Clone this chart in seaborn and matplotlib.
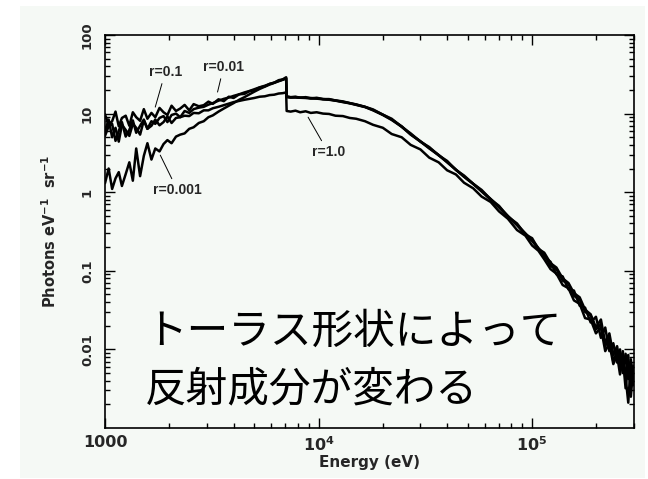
import numpy as np
import pandas as pd
import matplotlib
matplotlib.use("Agg")
import matplotlib.pyplot as plt
import seaborn as sns
from matplotlib.patches import Rectangle
from matplotlib.ticker import LogLocator, NullFormatter
from matplotlib import font_manager

# ---------------- data ----------------
energy_ev = [
    1000, 1040, 1080, 1120, 1160, 1200, 1250,
    1300, 1350, 1400, 1460, 1520, 1580, 1650,
    1720, 1800, 1880, 1960, 2050, 2150, 2250,
    2360, 2480, 2600, 2750, 2900, 3050, 3200,
    3400, 3600, 3800, 4000, 4250, 4500, 4750,
    5000, 5300, 5600, 5900, 6200, 6500, 6800,
    7050, 7090, 7400, 7800, 8200, 8700, 9200,
    9800, 10500, 11200, 12000, 13000, 14000, 15000,
    16500, 18000, 20000, 22000, 24500, 27000, 30000,
    33000, 36500, 40000, 44000, 48000, 53000, 58000,
    64000, 70000, 77000, 85000, 93000, 100000, 107000,
    114000, 122000, 130000, 139000, 148000, 157000, 167000,
    177000, 188000, 199000, 210000, 220000, 230000, 240000,
    250000, 258000, 266000, 274000, 282000, 290000, 298000,
]

flux_r_0p1 = [
    9.8, 7.2, 8.0, 10.6, 6.9, 8.8, 9.4,
    7.0, 10.4, 9.0, 8.1, 11.4, 8.6, 10.2,
    9.0, 11.8, 10.4, 9.6, 12.6, 10.8, 11.6,
    12.9, 11.0, 13.2, 12.4, 12.8, 14.2, 13.3,
    15.2, 14.4, 16.4, 15.8, 17.6, 17.8, 19.3,
    19.8, 21.5, 22.2, 23.9, 24.7, 26.6, 27.3,
    29.0, 16.6, 16.2, 16.4, 15.9, 16.2, 15.6,
    15.9, 15.3, 15.3, 14.7, 14.3, 13.6, 13.1,
    12.2, 11.3, 9.7, 8.6, 6.8, 5.6, 4.4,
    3.75, 2.95, 2.5, 1.92, 1.63, 1.28, 1.07,
    0.81, 0.67, 0.49, 0.4, 0.29, 0.26, 0.19,
    0.17, 0.125, 0.11, 0.08, 0.07, 0.052, 0.046,
    0.032, 0.028, 0.019, 0.024, 0.012, 0.016, 0.0085,
    0.011, 0.0065, 0.0095, 0.004, 0.0085, 0.0025, 0.0062,
]

flux_r_0p01 = [
    5.2, 6.9, 7.4, 4.5, 6.0, 7.8, 5.1,
    6.2, 8.2, 5.7, 7.0, 8.4, 6.4, 8.0,
    7.4, 8.8, 9.3, 7.8, 9.6, 10.0, 9.0,
    10.8, 10.2, 11.4, 11.9, 12.2, 13.0, 13.6,
    14.6, 15.4, 16.0, 16.8, 17.6, 18.6, 19.4,
    20.4, 21.6, 22.6, 23.8, 24.8, 26.0, 27.0,
    28.2, 16.2, 16.0, 16.0, 15.9, 15.8, 15.6,
    15.5, 15.2, 15.0, 14.6, 14.0, 13.5, 12.9,
    12.1, 11.0, 9.6, 8.3, 6.8, 5.4, 4.4,
    3.6, 2.95, 2.4, 1.92, 1.57, 1.27, 1.02,
    0.8, 0.64, 0.49, 0.38, 0.29, 0.24, 0.19,
    0.15, 0.13, 0.09, 0.085, 0.058, 0.056, 0.036,
    0.034, 0.022, 0.026, 0.014, 0.019, 0.0095, 0.012,
    0.0068, 0.01, 0.005, 0.0088, 0.0042, 0.0075, 0.0035,
]

flux_r_0p001 = [
    1.3, 2.0, 1.1, 1.5, 1.8, 1.2, 1.7,
    2.4, 1.4, 3.6, 1.6, 2.9, 4.2, 2.6,
    3.6, 3.3, 4.1, 4.6, 4.2, 5.1, 5.4,
    5.6, 6.4, 6.7, 7.6, 8.0, 9.0, 9.5,
    10.6, 11.6, 12.6, 13.6, 15.0, 16.2, 17.6,
    19.0, 20.6, 22.0, 23.4, 24.6, 25.8, 27.0,
    28.0, 16.4, 16.1, 16.2, 16.0, 15.9, 15.8,
    15.6, 15.3, 15.1, 14.7, 14.1, 13.6, 13.0,
    12.2, 11.1, 9.7, 8.4, 6.9, 5.45, 4.45,
    3.65, 2.98, 2.42, 1.94, 1.58, 1.28, 1.04,
    0.82, 0.65, 0.5, 0.385, 0.3, 0.245, 0.195,
    0.16, 0.115, 0.105, 0.075, 0.068, 0.048, 0.043,
    0.03, 0.027, 0.018, 0.021, 0.011, 0.014, 0.007,
    0.0095, 0.0055, 0.0088, 0.0045, 0.0021, 0.0068, 0.0045,
]

flux_r_1p0 = [
    6.0, 8.4, 5.0, 6.6, 4.4, 7.2, 6.2,
    5.2, 7.4, 6.6, 5.4, 8.2, 6.4, 7.0,
    8.4, 7.1, 7.8, 9.2, 7.6, 8.8, 9.0,
    9.4, 9.3, 10.2, 10.1, 11.0, 11.0, 11.7,
    12.2, 12.8, 13.4, 14.0, 14.5, 15.0, 15.4,
    15.8, 16.4, 16.6, 17.2, 17.4, 18.0, 18.2,
    18.6, 10.8, 10.6, 10.9, 10.4, 10.7, 10.2,
    10.4, 10.0, 9.9, 9.4, 9.3, 8.8, 8.6,
    8.0, 7.2, 6.6, 5.5, 5.0, 4.0, 3.5,
    2.75, 2.4, 1.9, 1.68, 1.32, 1.12, 0.88,
    0.75, 0.57, 0.46, 0.33, 0.28, 0.21, 0.18,
    0.14, 0.105, 0.092, 0.066, 0.06, 0.042, 0.038,
    0.025, 0.024, 0.016, 0.019, 0.0095, 0.012, 0.0065,
    0.0085, 0.0048, 0.0078, 0.0032, 0.0068, 0.004, 0.0052,
]

model_labels = ["r=0.1", "r=0.01", "r=0.001", "r=1.0"]
x_tick_values = [1e3, 1e4, 1e5]
x_tick_labels = ["1000", r"$10^4$", r"$10^5$"]
y_tick_values = [0.01, 0.1, 1, 10, 100]
y_tick_labels = ["0.01", "0.1", "1", "10", "100"]
x_title = "Energy (eV)"
y_title = r"Photons eV$^{-1}$  sr$^{-1}$"
note_lines = ["トーラス形状によって", "反射成分が変わる"]

# label placement (text position, leader-line tip) in data coordinates
label_text_pos = [(1915, 33.8), (3590, 39.0), (2184, 1.06), (11090, 3.23)]
label_tip_pos = [(1719, 12.1), (3365, 18.8), (1815, 2.96), (8935, 9.0)]

# ---------------- build table ----------------
series = [flux_r_0p1, flux_r_0p01, flux_r_0p001, flux_r_1p0]
frames = []
for lab, vals in zip(model_labels, series):
    frames.append(pd.DataFrame({"energy": energy_ev, "flux": vals, "model": lab}))
df = pd.concat(frames, ignore_index=True)

# ---------------- style ----------------
sns.set_theme(style="ticks")
plt.rcParams["font.family"] = ["DejaVu Sans", "Noto Sans CJK JP"]
plt.rcParams["font.weight"] = "bold"
plt.rcParams["mathtext.default"] = "bf"

avail = {f.name for f in font_manager.fontManager.ttflist}
if "Liberation Sans Narrow" in avail:
    r_font, r_size = ["Liberation Sans Narrow", "DejaVu Sans"], 12
else:
    r_font, r_size = ["Liberation Sans", "DejaVu Sans"], 10

PANEL = "#f5f9f5"

fig = plt.figure(figsize=(6.48, 4.79), dpi=100)
fig.patch.set_facecolor("white")
fig.add_artist(Rectangle((20 / 648, 1 / 479), 625 / 648, 472 / 479,
                         transform=fig.transFigure, facecolor=PANEL,
                         edgecolor="none", zorder=-10))

ax = fig.add_axes([105 / 648, 1 - 428 / 479, 529 / 648, 393 / 479])
ax.set_facecolor(PANEL)
ax.set_xscale("log")
ax.set_yscale("log")

sns.lineplot(data=df, x="energy", y="flux", units="model", estimator=None,
             color="black", lw=1.8, legend=False, sort=False, ax=ax)

ax.set_xlim(1000, 3e5)
ax.set_ylim(1e-3, 100)

ax.set_xticks(x_tick_values, labels=x_tick_labels)
ax.set_yticks(y_tick_values, labels=y_tick_labels)
ax.xaxis.set_minor_locator(LogLocator(base=10, subs=np.arange(2, 10), numticks=30))
ax.yaxis.set_minor_locator(LogLocator(base=10, subs=np.arange(2, 10), numticks=30))
ax.xaxis.set_minor_formatter(NullFormatter())
ax.yaxis.set_minor_formatter(NullFormatter())

ax.tick_params(which="both", direction="in", top=True, right=True,
               color="black", width=1.0)
ax.tick_params(which="major", length=7)
ax.tick_params(which="minor", length=3.5)
ax.tick_params(axis="x", which="major", labelsize=11.5, pad=5)
ax.tick_params(axis="y", which="major", labelsize=9.5, pad=8)
for t in ax.get_yticklabels():
    t.set_rotation(90)
    t.set_va("center")
    t.set_fontweight("bold")
for t in ax.get_xticklabels():
    t.set_fontweight("bold")

for s in ax.spines.values():
    s.set_color("black")
    s.set_linewidth(1.2)

ax.set_xlabel(x_title, fontsize=11, fontweight="bold")
ax.set_ylabel(y_title, fontsize=10.5, fontweight="bold")
ax.xaxis.set_label_coords(0.5, -35 / 393)
ax.xaxis.label.set_va("center")
ax.yaxis.set_label_coords(-55 / 529, 0.5)
ax.yaxis.label.set_va("center")

for lab, tpos, tip in zip(model_labels, label_text_pos, label_tip_pos):
    ax.annotate(lab, xy=tip, xytext=tpos, textcoords="data",
                ha="center", va="center", fontsize=r_size, fontweight="bold",
                family=r_font, zorder=5,
                arrowprops=dict(arrowstyle="-", lw=0.7, color="black",
                                shrinkA=1, shrinkB=0))

ax.text(40 / 529, (428 - 332) / 393, note_lines[0], transform=ax.transAxes,
        ha="left", va="center", fontsize=30, fontweight="normal",
        family=["Noto Sans CJK JP", "DejaVu Sans"], color="black", zorder=6)
ax.text(40 / 529, (428 - 390) / 393, note_lines[1], transform=ax.transAxes,
        ha="left", va="center", fontsize=30, fontweight="normal",
        family=["Noto Sans CJK JP", "DejaVu Sans"], color="black", zorder=6)

fig.savefig("out.png", dpi=100, facecolor="white")
